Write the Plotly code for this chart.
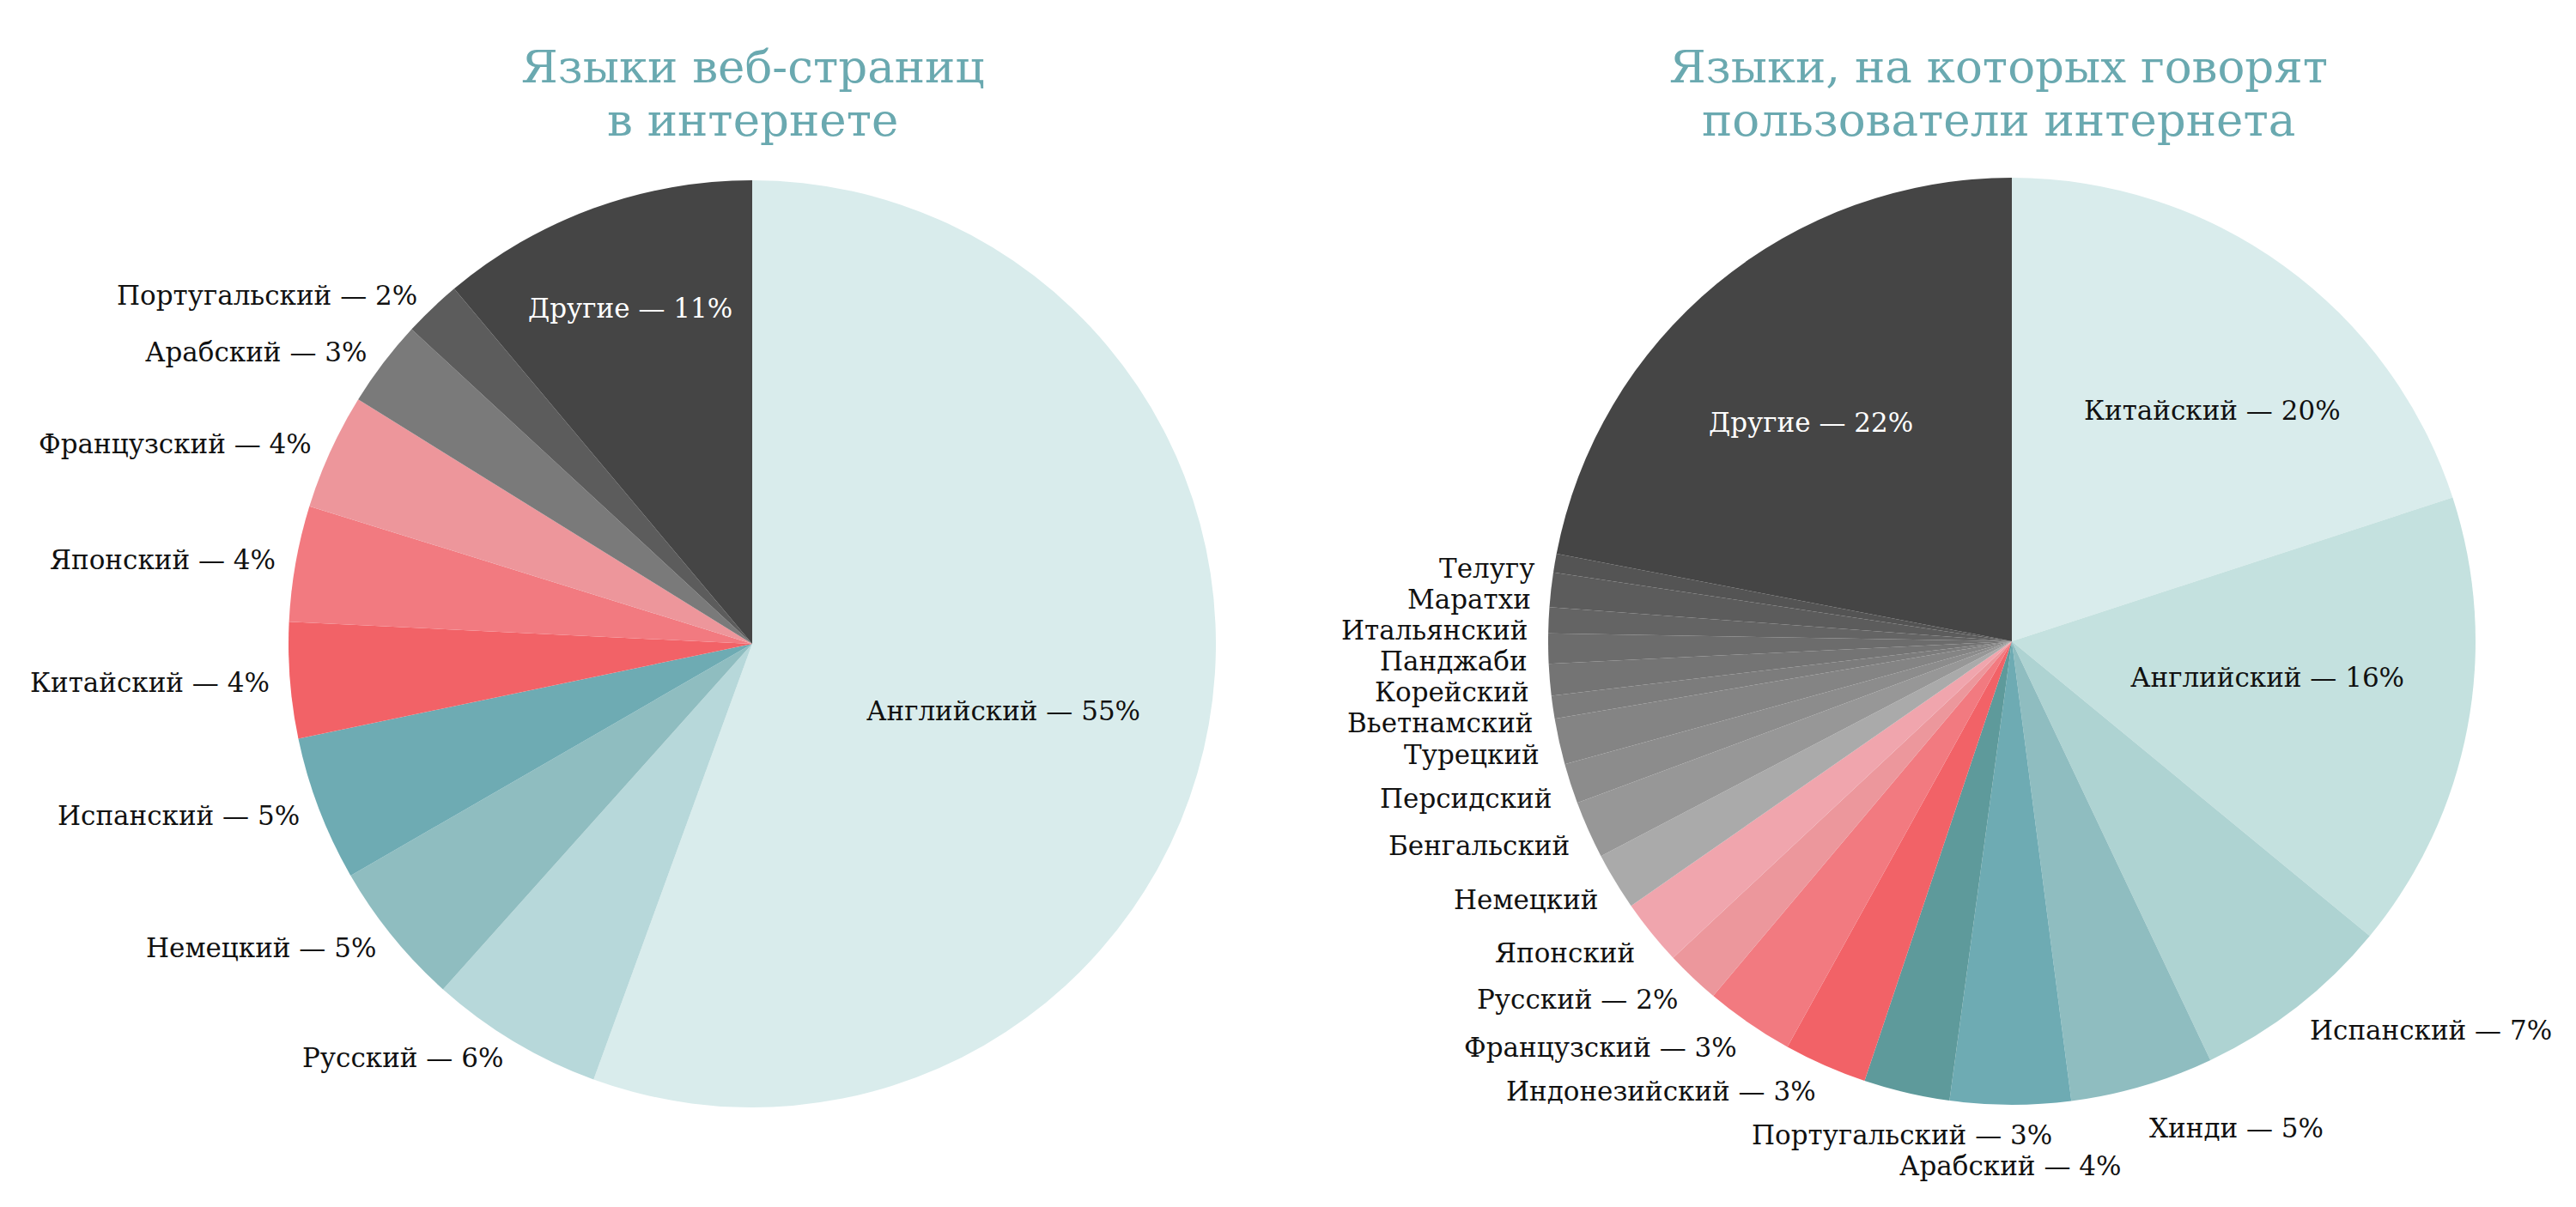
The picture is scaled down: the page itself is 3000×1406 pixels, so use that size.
import math
import plotly.graph_objects as go

# ---------------- data ----------------
web_langs = ["Английский", "Русский", "Немецкий", "Испанский", "Китайский",
             "Японский", "Французский", "Арабский", "Португальский", "Другие"]
web_values = [55, 6, 5, 5, 4, 4, 4, 3, 2, 11]
web_pct_labels = [55, 6, 5, 5, 4, 4, 4, 3, 2, 11]
web_colors = ["#d9ecec", "#b7d8da", "#8fbdc0", "#6eabb3", "#f26267",
              "#f27a80", "#ed969b", "#7a7a7a", "#5c5c5c", "#454545"]

user_langs = ["Китайский", "Английский", "Испанский", "Хинди", "Арабский",
              "Португальский", "Индонезийский", "Французский", "Русский",
              "Японский", "Немецкий", "Бенгальский", "Персидский", "Турецкий",
              "Вьетнамский", "Корейский", "Панджаби", "Итальянский", "Маратхи",
              "Телугу", "Другие"]
user_values = [20, 16, 7, 5, 4.2, 3, 2.9, 3.1, 1.9, 2.3, 2.0, 2.0, 1.4, 1.6,
               0.8, 1.1, 1.05, 0.9, 1.2, 0.65, 22]
user_pct_labels = [20, 16, 7, 5, 4, 3, 3, 3, 2, None, None, None, None, None,
                   None, None, None, None, None, None, 22]
user_colors = ["#d9ecec", "#c4e1df", "#aed3d2", "#8fbdc0", "#6eabb3", "#5e9a9b",
               "#f26267", "#f27a80", "#ec979c", "#f0a5ad", "#aaaaaa", "#979797",
               "#8c8c8c", "#848484", "#7c7c7c", "#747474", "#6c6c6c", "#646464",
               "#5c5c5c", "#545454", "#454545"]

titles = [["Языки веб-страниц", "в интернете"],
          ["Языки, на которых говорят", "пользователи интернета"]]

# ---------------- layout parameters ----------------
W, H = 3000, 1406
FONT = "DejaVu Serif"
LABEL_SIZE = 31
TITLE_SIZE = 53
TITLE_COLOR = "#6aa9b0"
TITLE_LINES_Y = [78, 140]

pies = [
    dict(langs=web_langs, values=web_values, pcts=web_pct_labels, colors=web_colors,
         cx=876, cy=750, r=540, title_x=876, yoff=0,
         inside={"Английский": (0.56, 5), "Другие": (0.77, 0)},
         inside_color={"Другие": "white"}),
    dict(langs=user_langs, values=user_values, pcts=user_pct_labels, colors=user_colors,
         cx=2343, cy=747, r=540, title_x=2327, yoff=10,
         inside={"Китайский": (0.66, 5), "Английский": (0.556, -2.6), "Другие": (0.64, -3)},
         inside_color={"Другие": "white"}),
]

fig = go.Figure()
annotations = []


def px_to_paper(x, y):
    return x / W, 1 - y / H


for k, p in enumerate(pies):
    cx, cy, r = p["cx"], p["cy"], p["r"]
    fig.add_trace(go.Pie(
        labels=p["langs"], values=p["values"], sort=False, direction="clockwise",
        rotation=0, marker=dict(colors=p["colors"], line=dict(width=0)),
        textinfo="none", hoverinfo="label+percent", showlegend=False,
        domain=dict(x=[(cx - r) / W, (cx + r) / W],
                    y=[1 - (cy + r) / H, 1 - (cy - r) / H]),
    ))

    total = sum(p["values"])
    cum = 0
    mids = []
    for v in p["values"]:
        mids.append((cum + v / 2) / total * 360)
        cum += v

    texts = []
    for name, pct in zip(p["langs"], p["pcts"]):
        texts.append(f"{name} — {pct}%" if pct is not None else name)

    # inside labels
    for i, name in enumerate(p["langs"]):
        if name in p["inside"]:
            rf, dth = p["inside"][name]
            th = math.radians(mids[i] + dth)
            rr = rf * r
            x = cx + rr * math.sin(th)
            y = cy - rr * math.cos(th)
            xp, yp = px_to_paper(x, y)
            annotations.append(dict(
                x=xp, y=yp, xref="paper", yref="paper", text=texts[i],
                showarrow=False, xanchor="center", yanchor="middle",
                font=dict(family=FONT, size=LABEL_SIZE,
                          color=p["inside_color"].get(name, "#111111"))))

    # outside labels, processed counter-clockwise with simple collision push
    placed = []
    R = 1.04 * r
    lh = 36
    for i in reversed(range(len(p["langs"]))):
        name = p["langs"][i]
        if name in p["inside"]:
            continue
        th = math.radians(mids[i])
        s, c = math.sin(th), math.cos(th)
        x = cx + R * s
        y = cy - R * c + p["yoff"]
        w = len(texts[i]) * 0.6 * LABEL_SIZE
        if s < -0.25:
            xanchor, x0, x1 = "right", x - w, x
        elif s > 0.25:
            xanchor, x0, x1 = "left", x, x + w
        else:
            xanchor, x0, x1 = "center", x - w / 2, x + w / 2
        if c < -0.95:
            y += lh / 2
        moved = True
        while moved:
            moved = False
            for (a0, a1, yc) in placed:
                if x0 < a1 and x1 > a0 and abs(y - yc) < lh:
                    y = yc + lh
                    moved = True
        placed.append((x0, x1, y))
        xp, yp = px_to_paper(x, y)
        annotations.append(dict(
            x=xp, y=yp, xref="paper", yref="paper", text=texts[i],
            showarrow=False, xanchor=xanchor, yanchor="middle",
            font=dict(family=FONT, size=LABEL_SIZE, color="#111111")))

    # title (two lines)
    for line, ly in zip(titles[k], TITLE_LINES_Y):
        tx, ty = px_to_paper(p["title_x"], ly)
        annotations.append(dict(
            x=tx, y=ty, xref="paper", yref="paper", text=line,
            showarrow=False, xanchor="center", yanchor="middle",
            font=dict(family=FONT, size=TITLE_SIZE, color=TITLE_COLOR)))

fig.update_layout(
    width=W, height=H, margin=dict(l=0, r=0, t=0, b=0),
    paper_bgcolor="white", plot_bgcolor="white",
    annotations=annotations,
)

fig.write_html("out.html", config={"displayModeBar": False},
               post_script="document.body.style.margin='0';document.body.style.overflow='hidden';")
